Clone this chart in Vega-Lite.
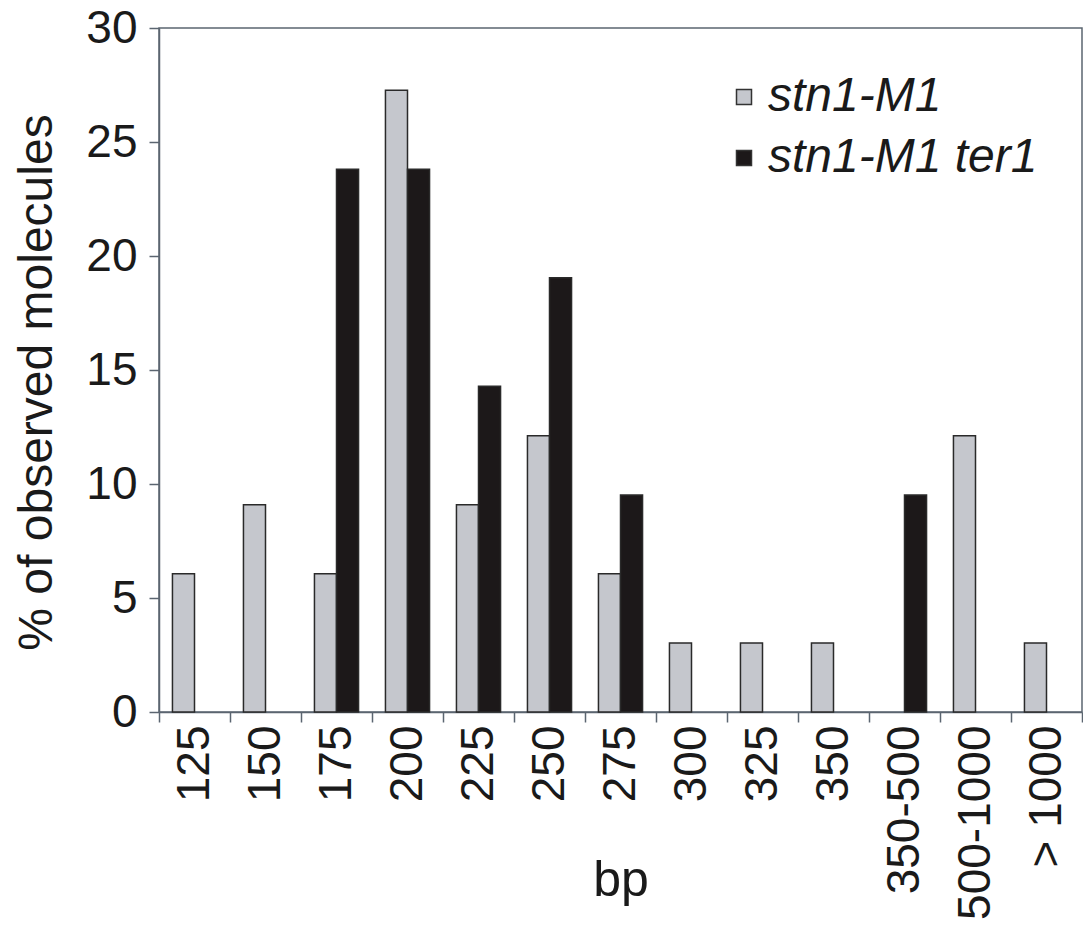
{
  "$schema": "https://vega.github.io/schema/vega-lite/v6.json",
  "width": 923,
  "height": 684,
  "autosize": {"type": "none"},
  "padding": {"left": 159, "top": 28, "right": 1, "bottom": 222},
  "background": "white",
  "config": {
    "font": "Liberation Sans",
    "view": {"stroke": "#5b6570", "strokeWidth": 1.5}
  },
  "data": {
    "values": [
      {"bp": "125", "series": "stn1-M1", "pct": 6.06},
      {"bp": "150", "series": "stn1-M1", "pct": 9.09},
      {"bp": "175", "series": "stn1-M1", "pct": 6.06},
      {"bp": "175", "series": "stn1-M1 ter1", "pct": 23.81},
      {"bp": "200", "series": "stn1-M1", "pct": 27.27},
      {"bp": "200", "series": "stn1-M1 ter1", "pct": 23.81},
      {"bp": "225", "series": "stn1-M1", "pct": 9.09},
      {"bp": "225", "series": "stn1-M1 ter1", "pct": 14.29},
      {"bp": "250", "series": "stn1-M1", "pct": 12.12},
      {"bp": "250", "series": "stn1-M1 ter1", "pct": 19.05},
      {"bp": "275", "series": "stn1-M1", "pct": 6.06},
      {"bp": "275", "series": "stn1-M1 ter1", "pct": 9.52},
      {"bp": "300", "series": "stn1-M1", "pct": 3.03},
      {"bp": "325", "series": "stn1-M1", "pct": 3.03},
      {"bp": "350", "series": "stn1-M1", "pct": 3.03},
      {"bp": "350-500", "series": "stn1-M1 ter1", "pct": 9.52},
      {"bp": "500-1000", "series": "stn1-M1", "pct": 12.12},
      {"bp": "> 1000", "series": "stn1-M1", "pct": 3.03}
    ]
  },
  "mark": {"type": "bar", "stroke": "#2a2a2a", "strokeWidth": 1.5},
  "encoding": {
    "x": {
      "field": "bp",
      "type": "nominal",
      "sort": ["125", "150", "175", "200", "225", "250", "275", "300", "325", "350", "350-500", "500-1000", "> 1000"],
      "scale": {"paddingInner": 0, "paddingOuter": 0},
      "axis": {
        "title": "bp",
        "titleFontSize": 50,
        "titleFontWeight": "normal",
        "titleColor": "#1a1a1a",
        "titleY": 183,
        "titleBaseline": "alphabetic",
        "labelAngle": -90,
        "labelAlign": "right",
        "labelBaseline": "middle",
        "labelFontSize": 46,
        "labelColor": "#1a1a1a",
        "labelLimit": 400,
        "tickBand": "extent",
        "tickSize": 10,
        "labelPadding": 3,
        "domainColor": "#5b6570",
        "domainWidth": 1.5,
        "tickColor": "#5b6570",
        "tickWidth": 1.5
      }
    },
    "xOffset": {
      "field": "series",
      "type": "nominal",
      "scale": {"paddingInner": 0, "paddingOuter": 0.61}
    },
    "y": {
      "field": "pct",
      "type": "quantitative",
      "scale": {"domain": [0, 30]},
      "axis": {
        "values": [0, 5, 10, 15, 20, 25, 30],
        "grid": false,
        "title": "% of observed molecules",
        "titleFontSize": 48,
        "titleFontWeight": "normal",
        "titleColor": "#1a1a1a",
        "titleAngle": -90,
        "titleX": -108,
        "titleY": 354,
        "titleAlign": "center",
        "titleBaseline": "alphabetic",
        "labelFontSize": 46,
        "labelColor": "#1a1a1a",
        "labelPadding": 12,
        "tickSize": 10,
        "domainColor": "#5b6570",
        "domainWidth": 1.5,
        "tickColor": "#5b6570",
        "tickWidth": 1.5
      }
    },
    "color": {
      "field": "series",
      "type": "nominal",
      "scale": {"domain": ["stn1-M1", "stn1-M1 ter1"], "range": ["#c5c7cd", "#1c1819"]},
      "legend": {
        "title": null,
        "orient": "none",
        "legendX": 561,
        "legendY": 45,
        "symbolType": "square",
        "symbolSize": 225,
        "symbolStrokeColor": "#333333",
        "symbolStrokeWidth": 1.5,
        "symbolOpacity": 1,
        "labelFontSize": 48,
        "labelFontStyle": "italic",
        "labelColor": "#1a1a1a",
        "labelOffset": 0,
        "labelLimit": 400,
        "rowPadding": 13
      }
    }
  }
}
